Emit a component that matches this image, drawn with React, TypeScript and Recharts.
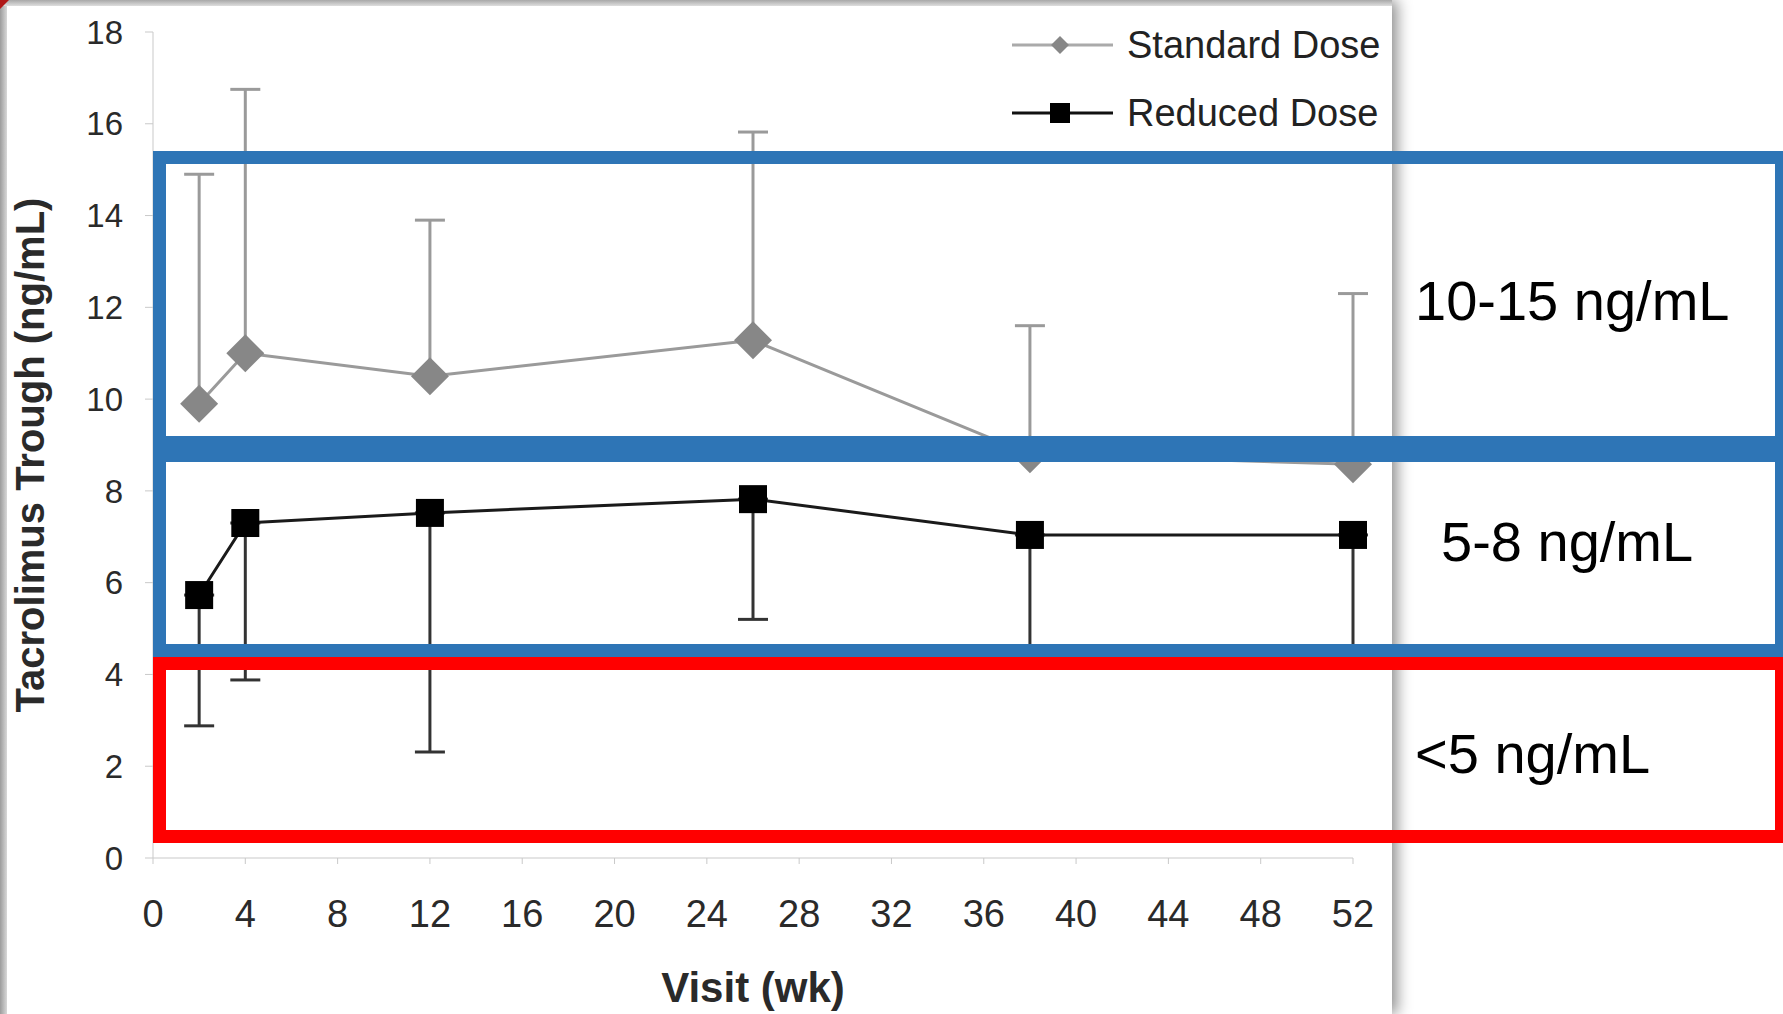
import React from 'react';
import { ComposedChart, Line, XAxis, YAxis, ErrorBar, Legend, Label } from 'recharts';

// visit weeks
const weeks = [2, 4, 12, 26, 38, 52];

// Standard Dose: mean and top of the (upper) error bar
const standardDose = [9.9, 11.0, 10.5, 11.28, 8.8, 8.58];
const standardUpper = [14.9, 16.75, 13.9, 15.82, 11.6, 12.3];

// Reduced Dose: mean and bottom of the (lower) error bar
const reducedDose = [5.73, 7.3, 7.52, 7.82, 7.04, 7.04];
const reducedLower = [2.88, 3.88, 2.31, 5.2, 4.4, 4.4];

const xTicks = [0, 4, 8, 12, 16, 20, 24, 28, 32, 36, 40, 44, 48, 52];
const yTicks = [0, 2, 4, 6, 8, 10, 12, 14, 16, 18];

const rangeLabels = ['10-15 ng/mL', '5-8 ng/mL', '<5 ng/mL'];

const data = weeks.map((week, i) => ({
  week,
  standard: standardDose[i],
  standardErr: [0, +(standardUpper[i] - standardDose[i]).toFixed(2)],
  reduced: reducedDose[i],
  reducedErr: [+(reducedDose[i] - reducedLower[i]).toFixed(2), 0],
}));

const FONT = '"Liberation Sans", Arial, Helvetica, sans-serif';
const AXIS = '#c9c9c9';
const STD_COLOR = '#9a9a9a';
const STD_MARK = '#878787';
const RED_COLOR = '#1a1a1a';

const renderDiamond = (props: any) => {
  const { cx, cy, index } = props;
  if (cx == null || cy == null) return <g key={`sd-${index}`} />;
  const r = 19;
  return (
    <path
      key={`sd-${index}`}
      d={`M${cx},${cy - r}L${cx + r},${cy}L${cx},${cy + r}L${cx - r},${cy}Z`}
      fill={STD_MARK}
    />
  );
};

const renderSquare = (props: any) => {
  const { cx, cy, index } = props;
  if (cx == null || cy == null) return <g key={`rd-${index}`} />;
  const s = 14;
  return <rect key={`rd-${index}`} x={cx - s} y={cy - s} width={s * 2} height={s * 2} fill="#000" />;
};

const renderLegend = () => (
  <div style={{ fontFamily: FONT, fontSize: 38, color: '#222' }}>
    <div style={{ display: 'flex', alignItems: 'center', height: 40, marginBottom: 28 }}>
      <svg width={122} height={40}>
        <line x1={7} y1={20} x2={108} y2={20} stroke="#aaa" strokeWidth={3} />
        <path d="M55,11L64,20L55,29L46,20Z" fill={STD_MARK} />
      </svg>
      <span style={{ lineHeight: '40px', whiteSpace: 'nowrap' }}>Standard Dose</span>
    </div>
    <div style={{ display: 'flex', alignItems: 'center', height: 40 }}>
      <svg width={122} height={40}>
        <line x1={7} y1={20} x2={108} y2={20} stroke="#111" strokeWidth={3} />
        <rect x={45} y={10} width={20} height={20} fill="#000" />
      </svg>
      <span style={{ lineHeight: '40px', whiteSpace: 'nowrap' }}>Reduced Dose</span>
    </div>
  </div>
);

const boxes = [
  { top: 151, height: 298, color: '#2E75B6', label: rangeLabels[0], textLeft: 1415, textTop: 273 },
  { top: 449, height: 208, color: '#2E75B6', label: rangeLabels[1], textLeft: 1441, textTop: 514 },
  { top: 657, height: 186, color: '#FF0000', label: rangeLabels[2], textLeft: 1415, textTop: 726 },
];

export default function App() {
  return (
    <div
      style={{
        position: 'absolute',
        left: 0,
        top: 0,
        width: 1783,
        height: 1014,
        overflow: 'hidden',
        background: '#fff',
      }}
    >
      {/* picture panel with its shadow */}
      <div
        style={{
          position: 'absolute',
          left: 0,
          top: 0,
          width: 1392,
          height: 1014,
          background: '#fff',
          boxShadow: '5px 0 14px rgba(0,0,0,0.45)',
        }}
      />
      <div style={{ position: 'absolute', left: 0, top: 0, width: 7, height: 1014, background: 'linear-gradient(to right, #9c9c9c, #d8d8d8)' }} />
      <div style={{ position: 'absolute', left: 0, top: 0, width: 1392, height: 6, background: 'linear-gradient(to bottom, #a8a8a8, #dedede)' }} />
      <div
        style={{
          position: 'absolute',
          left: 0,
          top: 0,
          width: 0,
          height: 0,
          borderTop: '9px solid #b01818',
          borderRight: '9px solid transparent',
        }}
      />

      <div style={{ position: 'absolute', left: 0, top: 0 }}>
        <ComposedChart
          width={1392}
          height={1014}
          data={data}
          margin={{ top: 32, right: 39, left: 0, bottom: 0 }}
        >
          <XAxis
            type="number"
            dataKey="week"
            domain={[0, 52]}
            ticks={xTicks}
            interval={0}
            height={156}
            stroke={AXIS}
            tickSize={6}
            tickMargin={36}
            tick={{ fill: '#2a2a2a', fontSize: 38, fontFamily: FONT }}
          >
            <Label
              value="Visit (wk)"
              position="insideBottom"
              offset={12}
              style={{ fontFamily: FONT, fontSize: 42, fontWeight: 'bold', fill: '#2a2a2a' }}
            />
          </XAxis>
          <YAxis
            type="number"
            domain={[0, 18]}
            ticks={yTicks}
            interval={0}
            width={153}
            stroke={AXIS}
            tickSize={8}
            tickMargin={22}
            tick={{ fill: '#2a2a2a', fontSize: 33, fontFamily: FONT }}
          >
            <Label
              content={(props: any) => {
                const vb = props.viewBox || {};
                const x = (vb.x || 0) + 30;
                const y = (vb.y || 0) + (vb.height || 0) / 2 + 10;
                return (
                  <text
                    x={x}
                    y={y}
                    transform={`rotate(-90 ${x} ${y})`}
                    textAnchor="middle"
                    dominantBaseline="central"
                    fontFamily={FONT}
                    fontSize={40}
                    fontWeight="bold"
                    fill="#2a2a2a"
                  >
                    Tacrolimus Trough (ng/mL)
                  </text>
                );
              }}
            />
          </YAxis>
          <Legend
            layout="vertical"
            align="center"
            verticalAlign="middle"
            content={renderLegend}
            wrapperStyle={{ left: 1005, top: 25, width: 400, height: 140 }}
          />
          <Line
            type="linear"
            dataKey="standard"
            name="Standard Dose"
            stroke={STD_COLOR}
            strokeWidth={3}
            dot={renderDiamond}
            activeDot={false}
            isAnimationActive={false}
          >
            <ErrorBar dataKey="standardErr" direction="y" width={15} stroke={STD_COLOR} strokeWidth={3} />
          </Line>
          <Line
            type="linear"
            dataKey="reduced"
            name="Reduced Dose"
            stroke={RED_COLOR}
            strokeWidth={3}
            dot={renderSquare}
            activeDot={false}
            isAnimationActive={false}
          >
            <ErrorBar dataKey="reducedErr" direction="y" width={15} stroke="#333" strokeWidth={3} />
          </Line>
        </ComposedChart>
      </div>

      {/* target range boxes drawn over the figure */}
      {boxes.map((b) => (
        <React.Fragment key={b.label}>
          <div
            style={{
              position: 'absolute',
              left: 153,
              top: b.top,
              width: 1635,
              height: b.height,
              border: `13px solid ${b.color}`,
              boxSizing: 'border-box',
              pointerEvents: 'none',
            }}
          />
          <div
            style={{
              position: 'absolute',
              left: b.textLeft,
              top: b.textTop,
              fontFamily: FONT,
              fontSize: 56,
              lineHeight: '56px',
              color: '#000',
              whiteSpace: 'nowrap',
            }}
          >
            {b.label}
          </div>
        </React.Fragment>
      ))}
    </div>
  );
}
